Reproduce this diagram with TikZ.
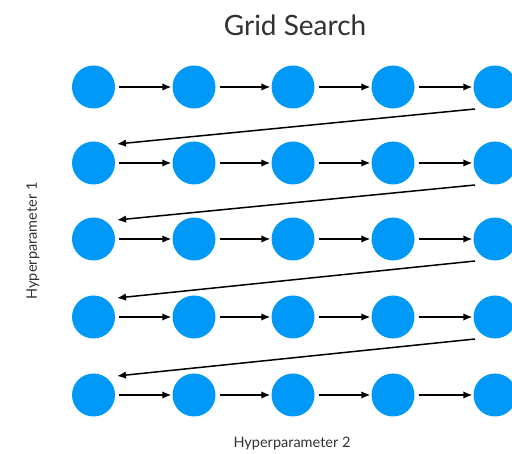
\documentclass[tikz,border=0pt]{standalone}
\usepackage{fontspec}
\setmainfont{Lato}
\usetikzlibrary{arrows.meta,calc}
\definecolor{dotblue}{RGB}{0,153,247}
\definecolor{txt}{RGB}{50,50,50}
\tikzset{
  dot/.style={circle,fill=dotblue,minimum size=43pt,inner sep=0pt},
  link/.style={line width=1.5pt,-{Latex[length=9pt,width=7.5pt]},shorten <=4pt,shorten >=1pt},
  back/.style={line width=1.5pt,-{Latex[length=9pt,width=7.5pt]}},
  lbl/.style={text=txt,inner sep=0pt}
}
\begin{document}
\begin{tikzpicture}[x=1pt,y=-1pt]
\useasboundingbox (0,0) rectangle (512,454);
\foreach \r/\y in {1/87,2/163,3/239,4/317,5/395}{
  \foreach \c/\x in {1/93.5,2/194,3/293,4/393,5/495}{
    \node[dot] (n\r\c) at (\x,\y) {};
  }
  \foreach \c [evaluate=\c as \d using int(\c+1)] in {1,2,3,4}{
    \draw[link] (n\r\c) -- (n\r\d);
  }
}
\foreach \r [evaluate=\r as \s using int(\r+1)] in {1,2,3,4}{
  \coordinate (s\r) at ($(n\r5)+(-20,22)$);
  \coordinate (e\r) at ($(n\s1)+(23.5,-19)$);
  \draw[back] (s\r) -- (e\r);
}
\node[lbl,font=\fontsize{28}{30}\selectfont] (title) at (295,25) {Grid Search};
\node[lbl,font=\fontsize{14.5}{16}\selectfont,rotate=90] (h1) at (33,241) {Hyperparameter 1};
\node[lbl,font=\fontsize{14.5}{16}\selectfont] (h2) at (292,443) {Hyperparameter 2};
\end{tikzpicture}
\end{document}
